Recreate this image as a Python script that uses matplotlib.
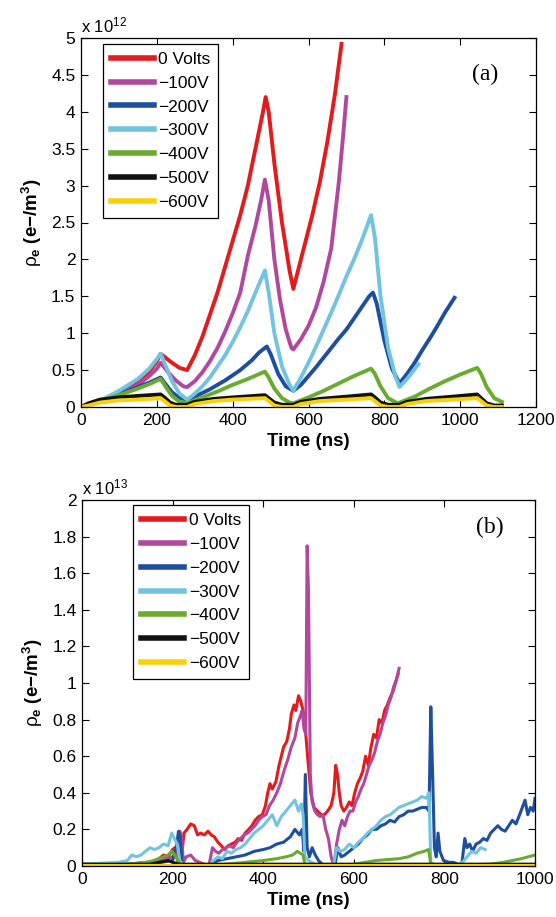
import numpy as np
import matplotlib
matplotlib.use("Agg")
import matplotlib.pyplot as plt
from matplotlib.ticker import FormatStrFormatter

plt.rcParams['font.family'] = ['Liberation Sans', 'DejaVu Sans']
plt.rcParams['mathtext.fontset'] = 'custom'
plt.rcParams['mathtext.rm'] = 'Liberation Sans'
plt.rcParams['mathtext.it'] = 'Liberation Sans:italic'
plt.rcParams['mathtext.bf'] = 'Liberation Sans:bold'

labels = ['0 Volts', '\u2212100V', '\u2212200V', '\u2212300V', '\u2212400V', '\u2212500V', '\u2212600V']
colors = ['#e41a1c', '#b2489e', '#1e4f9f', '#72c3e0', '#6aab2f', '#121212', '#f7d10a']

# --- (a) electron density, units of 1e12 e-/m^3 ---
t_a_0 = [0, 30, 60, 100, 150, 180, 200, 210, 220, 240, 260, 280, 300, 320, 340, 360, 380, 400, 420, 440,
         460, 480, 487, 495, 510, 530, 550, 560, 570, 590, 610, 630, 650, 670, 687]
v_a_0 = [0, 0.05, 0.1, 0.2, 0.33, 0.48, 0.62, 0.72, 0.68, 0.6, 0.53, 0.5, 0.7, 0.95, 1.25, 1.55, 1.9, 2.25, 2.6, 3.0,
         3.5, 4.0, 4.2, 4.0, 3.3, 2.5, 1.85, 1.6, 1.8, 2.2, 2.6, 3.05, 3.6, 4.25, 4.92]
t_a_100 = [0, 50, 100, 150, 180, 200, 210, 230, 250, 270, 280, 300, 320, 340, 360, 380, 400, 420, 440, 460,
           475, 485, 495, 510, 525, 540, 555, 560, 580, 600, 620, 640, 660, 680, 690, 700]
v_a_100 = [0, 0.08, 0.18, 0.3, 0.42, 0.52, 0.6, 0.47, 0.36, 0.28, 0.27, 0.35, 0.47, 0.62, 0.8, 1.02, 1.27, 1.55, 2.05, 2.45,
           2.8, 3.08, 2.8, 2.0, 1.45, 1.05, 0.8, 0.78, 0.92, 1.1, 1.35, 1.7, 2.15, 3.05, 3.6, 4.2]
t_a_200 = [0, 50, 100, 150, 180, 210, 220, 240, 260, 280, 300, 340, 380, 420, 450, 470, 490, 500, 520, 540,
           560, 580, 600, 620, 640, 660, 680, 700, 720, 740, 760, 770, 780, 800, 820, 840, 860, 880, 900, 920,
           940, 960, 985]
v_a_200 = [0, 0.08, 0.17, 0.27, 0.33, 0.4, 0.33, 0.2, 0.12, 0.1, 0.14, 0.24, 0.36, 0.5, 0.63, 0.74, 0.82, 0.72, 0.45, 0.28,
           0.22, 0.3, 0.42, 0.54, 0.67, 0.8, 0.93, 1.05, 1.2, 1.35, 1.5, 1.55, 1.4, 0.9, 0.52, 0.32, 0.45, 0.6, 0.77, 0.93,
           1.1, 1.28, 1.48]
t_a_300 = [0, 50, 100, 150, 180, 200, 210, 220, 240, 260, 280, 300, 320, 340, 360, 380, 400, 420, 440, 460,
           485, 495, 510, 530, 550, 560, 580, 600, 620, 640, 660, 680, 700, 720, 740, 765, 775, 790, 810, 830,
           840, 860, 890]
v_a_300 = [0, 0.08, 0.22, 0.38, 0.52, 0.65, 0.72, 0.6, 0.35, 0.18, 0.1, 0.18, 0.28, 0.4, 0.55, 0.7, 0.88, 1.08, 1.3, 1.55,
           1.85, 1.55, 1.0, 0.55, 0.3, 0.22, 0.4, 0.6, 0.82, 1.05, 1.28, 1.52, 1.77, 2.0, 2.25, 2.6, 2.3, 1.5, 0.8, 0.4,
           0.27, 0.38, 0.58]
t_a_400 = [0, 50, 100, 150, 180, 210, 220, 240, 260, 280, 320, 360, 400, 440, 485, 495, 510, 530, 550, 560,
           600, 640, 680, 720, 765, 775, 790, 810, 835, 880, 920, 960, 1000, 1045, 1055, 1070, 1090, 1110]
v_a_400 = [0, 0.08, 0.16, 0.25, 0.31, 0.38, 0.3, 0.15, 0.07, 0.05, 0.13, 0.21, 0.3, 0.38, 0.48, 0.4, 0.25, 0.12, 0.06, 0.05,
           0.13, 0.22, 0.32, 0.42, 0.52, 0.45, 0.28, 0.12, 0.05, 0.14, 0.25, 0.35, 0.44, 0.53, 0.45, 0.27, 0.12, 0.07]
t_a_500 = [0, 20, 50, 100, 150, 210, 220, 235, 250, 280, 300, 350, 400, 485, 495, 510, 530, 560, 580, 630,
           700, 765, 775, 790, 810, 840, 860, 910, 980, 1045, 1055, 1070, 1090, 1110]
v_a_500 = [0, 0.05, 0.1, 0.13, 0.15, 0.17, 0.13, 0.06, 0.03, 0.03, 0.07, 0.11, 0.13, 0.16, 0.12, 0.06, 0.03, 0.03, 0.07, 0.11,
           0.14, 0.17, 0.13, 0.06, 0.03, 0.03, 0.07, 0.11, 0.14, 0.17, 0.12, 0.05, 0.02, 0.02]
t_a_600 = [0, 20, 50, 100, 150, 210, 220, 235, 250, 280, 300, 350, 400, 485, 495, 510, 530, 560, 580, 630,
           700, 765, 775, 790, 810, 840, 860, 910, 980, 1045, 1055, 1070, 1090, 1110]
v_a_600 = [0, 0.02, 0.06, 0.09, 0.1, 0.12, 0.08, 0.02, 0.0, 0.0, 0.04, 0.08, 0.1, 0.12, 0.08, 0.02, 0.0, 0.0, 0.04, 0.08,
           0.1, 0.12, 0.08, 0.02, 0.0, 0.0, 0.04, 0.08, 0.1, 0.12, 0.08, 0.02, 0.0, 0.0]

# --- (b) electron density, units of 1e13 e-/m^3 ---
t_b_0 = [0, 100, 150, 170, 180, 190, 200, 205, 212, 218, 225, 232, 240, 248, 255, 262, 270, 278, 285, 292,
         300, 308, 315, 322, 330, 338, 345, 352, 360, 368, 375, 382, 390, 398, 405, 410, 415, 420, 428, 435,
         440, 445, 452, 458, 462, 468, 472, 478, 483, 488, 492, 498, 505, 512, 520, 528, 535, 542, 550, 556,
         560, 564, 568, 572, 578, 584, 590, 596, 602, 608, 614, 620, 626, 632, 638, 644, 650, 656, 662, 668,
         674, 680, 686, 692, 698]
v_b_0 = [0.01, 0.01, 0.02, 0.04, 0.06, 0.05, 0.09, 0.1, 0.02, 0.0, 0.18, 0.2, 0.23, 0.22, 0.17, 0.18, 0.17, 0.19, 0.17, 0.16,
         0.13, 0.11, 0.09, 0.11, 0.12, 0.13, 0.15, 0.14, 0.18, 0.2, 0.22, 0.25, 0.27, 0.28, 0.33, 0.4, 0.45, 0.42, 0.46, 0.55,
         0.6, 0.65, 0.68, 0.75, 0.83, 0.88, 0.85, 0.93, 0.9, 0.85, 0.78, 0.6, 0.4, 0.32, 0.3, 0.28, 0.28, 0.3, 0.33, 0.4,
         0.55, 0.5, 0.4, 0.33, 0.3, 0.32, 0.35, 0.33, 0.4, 0.45, 0.48, 0.52, 0.6, 0.55, 0.65, 0.72, 0.7, 0.8, 0.78, 0.85,
         0.88, 0.92, 0.95, 1.0, 1.05]
t_b_100 = [0, 100, 150, 200, 210, 216, 220, 224, 230, 240, 250, 260, 270, 280, 288, 295, 302, 310, 318, 326,
           334, 342, 350, 358, 366, 374, 382, 390, 398, 406, 414, 422, 430, 438, 446, 454, 462, 470, 476, 482,
           486, 490, 494, 497, 500, 504, 508, 514, 520, 526, 532, 538, 544, 550, 556, 562, 568, 574, 580, 586,
           592, 598, 604, 610, 616, 622, 628, 634, 640, 646, 652, 658, 664, 670, 676, 682, 688, 694, 700]
v_b_100 = [0.01, 0.01, 0.02, 0.05, 0.08, 0.19, 0.15, 0.02, 0.05, 0.06, 0.03, 0.02, 0.01, 0.0, 0.1, 0.08, 0.07, 0.09, 0.1, 0.11,
           0.1, 0.13, 0.15, 0.17, 0.18, 0.2, 0.22, 0.25, 0.27, 0.28, 0.33, 0.36, 0.4, 0.45, 0.52, 0.58, 0.65, 0.7, 0.78, 0.82,
           0.85, 0.75, 0.72, 1.75, 1.5, 0.5, 0.35, 0.3, 0.28, 0.27, 0.28, 0.2, 0.15, 0.05, 0.0, 0.12, 0.2, 0.25, 0.22, 0.27,
           0.3, 0.3, 0.35, 0.38, 0.42, 0.45, 0.5, 0.55, 0.58, 0.62, 0.68, 0.72, 0.78, 0.82, 0.88, 0.92, 0.98, 1.02, 1.08]
t_b_200 = [0, 150, 200, 208, 213, 217, 221, 230, 280, 300, 320, 340, 360, 380, 400, 415, 430, 445, 460, 470,
           480, 486, 490, 493, 497, 502, 508, 515, 522, 530, 540, 550, 558, 565, 572, 580, 590, 600, 610, 620,
           630, 640, 650, 660, 670, 680, 690, 700, 710, 720, 730, 740, 750, 760, 766, 770, 774, 778, 782, 786,
           790, 798, 810, 820, 830, 838, 845, 850, 856, 862, 870, 878, 886, 894, 902, 910, 918, 926, 934, 942,
           950, 958, 966, 972, 978, 984, 990, 996, 1000]
v_b_200 = [0.0, 0.01, 0.03, 0.1, 0.19, 0.15, 0.0, 0.0, 0.0, 0.03, 0.04, 0.05, 0.06, 0.08, 0.09, 0.1, 0.12, 0.13, 0.16, 0.2,
           0.17, 0.2, 0.08, 0.5, 0.1, 0.05, 0.1, 0.06, 0.03, 0.01, 0.0, 0.0, 0.0, 0.1, 0.05, 0.06, 0.08, 0.1, 0.12, 0.15,
           0.17, 0.2, 0.2, 0.22, 0.23, 0.25, 0.24, 0.27, 0.28, 0.3, 0.3, 0.31, 0.32, 0.32, 0.3, 0.87, 0.5, 0.1, 0.05, 0.18,
           0.08, 0.03, 0.02, 0.02, 0.01, 0.0, 0.15, 0.1, 0.12, 0.08, 0.12, 0.13, 0.15, 0.14, 0.18, 0.2, 0.22, 0.2, 0.19, 0.22,
           0.25, 0.23, 0.28, 0.32, 0.36, 0.28, 0.32, 0.3, 0.37]
t_b_300 = [0, 80, 100, 110, 120, 130, 140, 150, 160, 170, 180, 190, 198, 204, 210, 216, 222, 240, 280, 290,
           300, 310, 320, 330, 340, 350, 360, 370, 380, 390, 400, 410, 420, 430, 440, 450, 460, 470, 478, 484,
           488, 492, 500, 520, 555, 562, 570, 580, 590, 600, 610, 620, 630, 640, 650, 660, 670, 680, 690, 700,
           710, 720, 730, 740, 750, 760, 766, 770, 776, 790, 820, 840, 850, 860, 870, 880, 890]
v_b_300 = [0.01, 0.02, 0.03, 0.06, 0.05, 0.06, 0.08, 0.1, 0.09, 0.1, 0.12, 0.11, 0.18, 0.15, 0.12, 0.03, 0.01, 0.0, 0.0, 0.03,
           0.05, 0.04, 0.08, 0.07, 0.09, 0.1, 0.12, 0.15, 0.18, 0.2, 0.22, 0.25, 0.28, 0.22, 0.27, 0.3, 0.33, 0.36, 0.3, 0.34,
           0.28, 0.05, 0.03, 0.0, 0.0, 0.1, 0.08, 0.09, 0.12, 0.1, 0.13, 0.15, 0.18, 0.2, 0.22, 0.25, 0.27, 0.28, 0.3, 0.32,
           0.33, 0.34, 0.35, 0.36, 0.38, 0.37, 0.4, 0.02, 0.01, 0.0, 0.0, 0.02, 0.05, 0.08, 0.07, 0.1, 0.09]
t_b_400 = [0, 100, 140, 160, 180, 190, 198, 205, 212, 220, 280, 320, 360, 400, 430, 450, 465, 475, 482, 488,
           492, 520, 560, 600, 650, 700, 720, 740, 755, 765, 770, 775, 800, 900, 930, 950, 970, 985, 1000]
v_b_400 = [0.0, 0.01, 0.02, 0.03, 0.05, 0.06, 0.08, 0.06, 0.03, 0.0, 0.0, 0.01, 0.02, 0.03, 0.04, 0.05, 0.06, 0.08, 0.07, 0.06,
           0.01, 0.0, 0.0, 0.01, 0.03, 0.04, 0.05, 0.07, 0.08, 0.09, 0.01, 0.0, 0.0, 0.01, 0.02, 0.03, 0.04, 0.05, 0.06]
t_b_500 = [0, 150, 190, 200, 215, 300, 500, 1000]
v_b_500 = [0.01, 0.01, 0.03, 0.02, 0.01, 0.01, 0.01, 0.01]
t_b_600 = [0, 1000]
v_b_600 = [0.005, 0.005]

series_a = [(t_a_0, v_a_0), (t_a_100, v_a_100), (t_a_200, v_a_200), (t_a_300, v_a_300),
            (t_a_400, v_a_400), (t_a_500, v_a_500), (t_a_600, v_a_600)]
series_b = [(t_b_0, v_b_0), (t_b_100, v_b_100), (t_b_200, v_b_200), (t_b_300, v_b_300),
            (t_b_400, v_b_400), (t_b_500, v_b_500), (t_b_600, v_b_600)]

fig = plt.figure(figsize=(5.56, 9.17), dpi=100)
ax1 = fig.add_axes([81/556, 1 - 407/917, 455/556, 369/917])
ax2 = fig.add_axes([82/556, 1 - 866/917, 453/556, 366/917])

FS = 12.5


def style_axis(ax, xmax, xstep, ymax, ystep, exponent, tag, tagpos):
    ax.set_xlim(0, xmax)
    ax.set_ylim(0, ymax)
    ax.set_xticks(np.arange(0, xmax + 1, xstep))
    ax.set_yticks(np.arange(0, ymax + 1e-9, ystep))
    ax.yaxis.set_major_formatter(FormatStrFormatter('%g'))
    ax.tick_params(direction='in', length=5, width=0.8, top=True, right=True, labelsize=FS, pad=4)
    for s in ax.spines.values():
        s.set_linewidth(0.9)
    ax.set_xlabel('Time (ns)', fontsize=13.5, fontweight='bold', labelpad=4)
    ax.set_ylabel(r'$\mathrm{\rho}_{\mathbf{e}}$ $\mathbf{(e{-}/m^{3})}$', fontsize=13.5, labelpad=5)
    ax.text(0.0, 1.008, r'x 10$^{%d}$' % exponent, transform=ax.transAxes,
            fontsize=12, ha='left', va='bottom')
    ax.text(tagpos[0], tagpos[1], tag, transform=ax.transAxes, fontsize=17,
            family='Liberation Serif', ha='center', va='center')


for (t, v), c, lab in zip(series_a, colors, labels):
    ax1.plot(t, v, color=c, lw=2.8, label=lab, solid_joinstyle='round')
for (t, v), c, lab in zip(series_b, colors, labels):
    ax2.plot(t, v, color=c, lw=2.2, label=lab, solid_joinstyle='round')

style_axis(ax1, 1200, 200, 5, 0.5, 12, '(a)', (0.888, 0.9))
style_axis(ax2, 1000, 200, 2, 0.2, 13, '(b)', (0.9, 0.926))

for ax, anchor in [(ax1, (0.048, 0.984)), (ax2, (0.113, 0.986))]:
    leg = ax.legend(loc='upper left', bbox_to_anchor=anchor, fontsize=FS, frameon=True, fancybox=False,
                    edgecolor='black', framealpha=1, borderaxespad=0, handlelength=2.5,
                    handletextpad=0.25, labelspacing=0.5, borderpad=0.45)
    leg.get_frame().set_linewidth(0.9)
    for h in leg.get_lines():
        h.set_linewidth(4)

fig.savefig('out.png', dpi=100)
